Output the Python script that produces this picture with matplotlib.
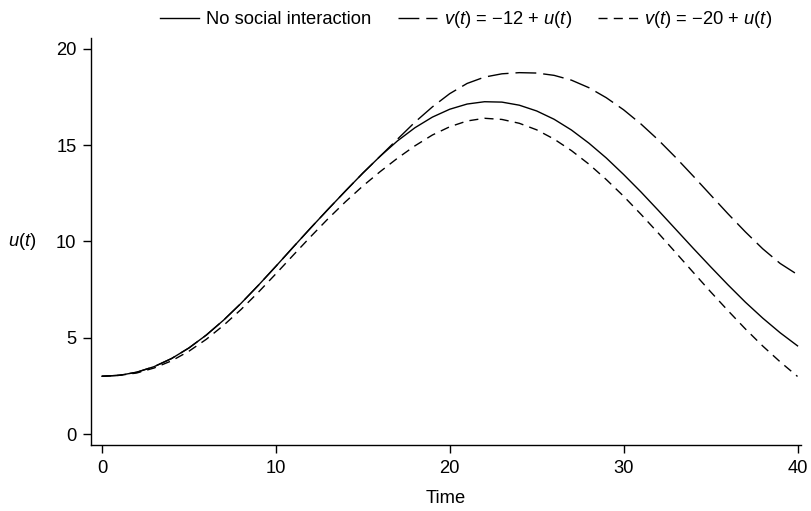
import matplotlib
matplotlib.use("Agg")
import matplotlib.pyplot as plt

plt.rcParams['font.family'] = ['Liberation Sans', 'DejaVu Sans']
plt.rcParams['mathtext.fontset'] = 'custom'
plt.rcParams['mathtext.rm'] = 'Liberation Sans'
plt.rcParams['mathtext.it'] = 'Liberation Sans:italic'

time = list(range(0, 41))
no_social = [3.00, 3.05, 3.21, 3.50, 3.92, 4.47, 5.14, 5.92, 6.79, 7.73,
             8.71, 9.71, 10.70, 11.67, 12.62, 13.55, 14.43, 15.23, 15.91, 16.46,
             16.87, 17.14, 17.26, 17.24, 17.08, 16.78, 16.35, 15.79, 15.11, 14.34,
             13.48, 12.57, 11.61, 10.63, 9.65, 8.69, 7.75, 6.85, 6.02, 5.26, 4.58]
v_minus12 = [3.00, 3.05, 3.21, 3.50, 3.92, 4.47, 5.14, 5.92, 6.79, 7.73,
             8.71, 9.71, 10.70, 11.67, 12.62, 13.55, 14.43, 15.32, 16.20, 16.99,
             17.68, 18.21, 18.54, 18.71, 18.77, 18.75, 18.63, 18.38, 17.99, 17.47,
             16.84, 16.10, 15.27, 14.36, 13.40, 12.42, 11.44, 10.50, 9.62, 8.86, 8.28]
v_minus20 = [3.00, 3.05, 3.17, 3.43, 3.80, 4.30, 4.92, 5.65, 6.47, 7.37,
             8.32, 9.29, 10.25, 11.18, 12.06, 12.88, 13.63, 14.33, 14.97, 15.53,
             15.96, 16.26, 16.40, 16.34, 16.14, 15.80, 15.32, 14.72, 14.02, 13.22,
             12.35, 11.41, 10.43, 9.42, 8.40, 7.39, 6.41, 5.46, 4.57, 3.75, 2.99]

labels = ['No social interaction', '$v(t)$ = \u221212 + $u(t)$', '$v(t)$ = \u221220 + $u(t)$']
xticks = [0, 10, 20, 30, 40]
yticks = [0, 5, 10, 15, 20]

fs = 13.2
fig = plt.figure(figsize=(8.11, 5.11), dpi=100)
ax = fig.add_axes([91/811, 1-445/511, (801-91)/811, (445-38)/511])

lw = 1.0
ax.plot(time, no_social, color='black', lw=lw, label=labels[0])
ax.plot(time, v_minus12, color='black', lw=lw, dashes=(15, 5), label=labels[1])
ax.plot(time, v_minus20, color='black', lw=lw, dashes=(6.5, 4.5), label=labels[2])

ax.set_xlim(-0.63, 40.2)
ax.set_ylim(-0.57, 20.57)
ax.set_xticks(xticks)
ax.set_yticks(yticks)
for s in ['top', 'right']:
    ax.spines[s].set_visible(False)
for s in ['left', 'bottom']:
    ax.spines[s].set_linewidth(1.0)
ax.tick_params(direction='out', length=5.5, width=1.0, labelsize=fs, pad=5)

ax.set_xlabel('Time', fontsize=fs, labelpad=10)
ax.set_ylabel('$u(t)$', fontsize=fs, rotation=0, labelpad=0)
ax.yaxis.set_label_coords(-0.097, 0.5)
ax.yaxis.label.set_verticalalignment('center')

fig.legend(loc='center', bbox_to_anchor=(466/811, 1-20/511), ncol=3, frameon=False,
           fontsize=fs, handlelength=2.16, handletextpad=0.35, columnspacing=1.45,
           borderaxespad=0, borderpad=0)

fig.savefig('out.png', dpi=100, facecolor='white')
